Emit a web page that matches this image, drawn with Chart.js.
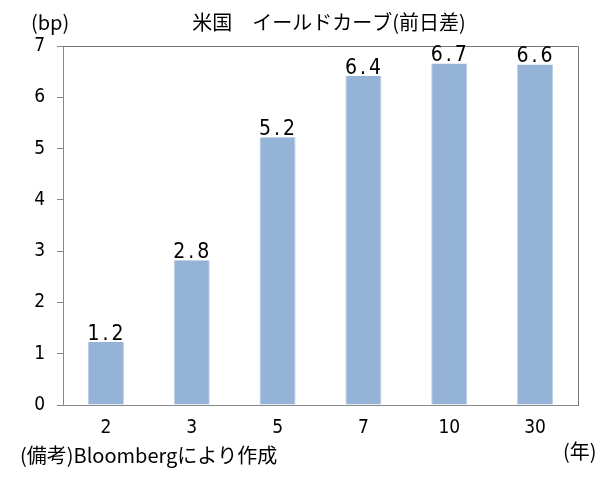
<!DOCTYPE html>
<html>
<head>
<meta charset="utf-8">
<script src="https://cdn.jsdelivr.net/npm/chart.js@4/dist/chart.umd.min.js"></script>
<style>
	body { margin: 0; background: #fff; }
	#wrap { width: 609px; height: 479px; }
</style>
</head>
<body>
<div id="wrap"><canvas id="canvas" width="609" height="479"></canvas></div>
<script>
// 年限 (年)
var tenors   = ["2", "3", "5", "7", "10", "30"];
// 前日差 (bp)
var changes  = [1.23, 2.82, 5.22, 6.42, 6.66, 6.64];
var yTicks   = [0, 1, 2, 3, 4, 5, 6, 7];

var title    = "米国　イールドカーブ(前日差)";
var unitY    = "(bp)";
var unitX    = "(年)";
var note     = "(備考)Bloombergにより作成";

var numFont  = "'DejaVu Sans Condensed', 'Noto Sans CJK JP', sans-serif";
var jpFont   = "'Noto Sans CJK JP', sans-serif";

var frame = {
	id: "frame",
	afterDraw: function(chart) {
		var ctx = chart.ctx;
		var a   = chart.chartArea;
		ctx.save();
		// top + right border of plot box
		ctx.strokeStyle = "#777";
		ctx.lineWidth = 1;
		ctx.beginPath();
		ctx.moveTo(a.left, a.top + 0.5);
		ctx.lineTo(a.right + 0.5, a.top + 0.5);
		ctx.lineTo(a.right + 0.5, a.bottom);
		ctx.stroke();

		// value labels
		ctx.fillStyle = "#000";
		ctx.font = "21px " + numFont;
		ctx.letterSpacing = "3px";
		ctx.textAlign = "center";
		ctx.textBaseline = "bottom";
		var meta = chart.getDatasetMeta(0);
		meta.data.forEach(function(bar, i) {
			ctx.fillText(changes[i].toFixed(1), bar.x + 1, bar.y + 3);
		});
		ctx.letterSpacing = "0px";

		// titles and notes
		ctx.font = "20px " + jpFont;
		ctx.textBaseline = "middle";
		ctx.textAlign = "center";
		ctx.fillText(title, 329, 22);
		ctx.textAlign = "left";
		ctx.fillText(unitY, 31, 22);
		ctx.fillText(note, 20, 455);
		ctx.fillText(unitX, 563, 451);
		ctx.restore();
	}
};

var ctx = document.getElementById("canvas").getContext("2d");
var yieldChart = new Chart(ctx, {
	type: "bar",
	data: {
		labels: tenors,
		datasets: [{
			data: changes,
			backgroundColor: "#95b3d7",
			borderColor: "#b9cde5",
			borderWidth: { left: 1, right: 1, top: 0, bottom: 0 },
			categoryPercentage: 1,
			barPercentage: 0.42
		}]
	},
	options: {
		responsive: false,
		animation: false,
		layout: { padding: { top: 46, right: 31, left: 0, bottom: 0 } },
		plugins: {
			legend: { display: false },
			tooltip: { enabled: false }
		},
		scales: {
			x: {
				grid: { display: false, drawTicks: false },
				border: { color: "#888", width: 1 },
				ticks: { color: "#000", font: { size: 19, family: numFont }, padding: 12 },
				afterFit: function(s) { s.height = 74; }
			},
			y: {
				min: 0,
				max: 7,
				afterBuildTicks: function(s) {
					s.ticks = yTicks.map(function(v) { return { value: v }; });
				},
				grid: { drawOnChartArea: false, drawTicks: true, tickLength: 6, color: "#888" },
				border: { color: "#888", width: 1 },
				ticks: { color: "#000", font: { size: 19, family: numFont }, padding: 12 },
				afterFit: function(s) { s.width = 63; }
			}
		}
	},
	plugins: [frame]
});
</script>
</body>
</html>
